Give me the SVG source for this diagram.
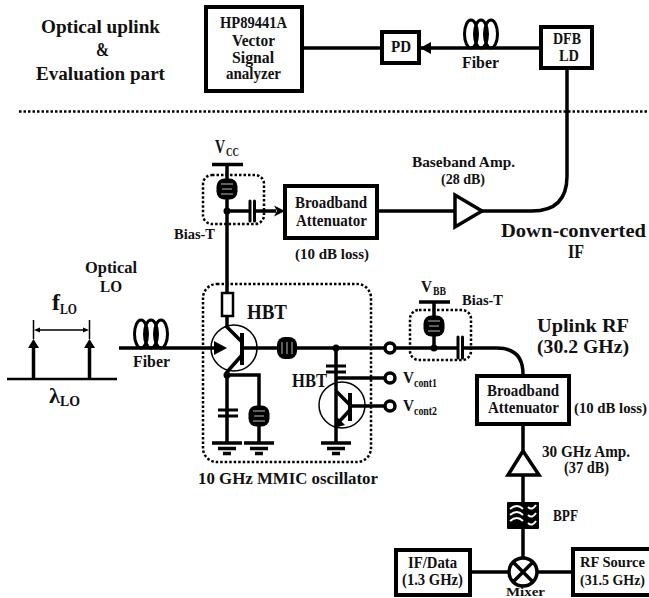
<svg xmlns="http://www.w3.org/2000/svg" width="649" height="598" viewBox="0 0 649 598">
<style>
text{font-family:"Liberation Serif",serif;font-weight:bold;fill:#111}
.s14{font-size:15px}.s15{font-size:16px}.s17{font-size:18px}.s19{font-size:21px}.s18{font-size:19px}.s11{font-size:12px}.s21{font-size:23px}
.w{stroke:#000;stroke-width:3.500;fill:none}
.t{stroke:#000;stroke-width:1.500;fill:none}
.box{fill:#fff;stroke:#000;stroke-width:4}
.dot{fill:none;stroke:#000;stroke-width:2.500;stroke-dasharray:2.500 2}
.coil{fill:none;stroke:#000;stroke-width:3}
</style>
<defs>
<g id="indV"><rect x="-10.500" y="-10.500" width="21" height="21" rx="8" fill="#000"/><path d="M-6-5H6M-5 0H5M-6 5H6" stroke="#bbb" stroke-width="1"/></g>
<g id="gnd"><path d="M-15 0H15M-9 5.500H9M-4 10.500H4" stroke="#000" stroke-width="3.500" fill="none"/></g>
<g id="fib"><ellipse cx="-10" cy="-14" rx="6.500" ry="14" class="coil"/><ellipse cx="0" cy="-14" rx="6.500" ry="14" class="coil"/><ellipse cx="10" cy="-14" rx="6.500" ry="14" class="coil"/></g>
</defs>
<g id="connectors">
<path class="w" d="M302 48H382M419 48H541"/>
<path d="M420 48L431 42V54Z" fill="#000"/>
<path class="w" d="M567 68V176Q567 211 532 211H482M377 211H455"/>
<path class="w" d="M227 165V293M227 211H250M254 211H276"/>
<path d="M285 211L274 205.500L277 211L274 216.500Z" fill="#000"/>
<path class="w" d="M227 316V327L242 342M242 355L227 372V443M227 375H259V443"/>
<path class="w" d="M119 348H216M242 348H385M395 348H458M462 348H497Q523 348 523 374V376"/>
<path d="M227 348L214 341V355Z" fill="#000"/>
<path class="w" d="M336 348V443M336 378H385M350 406H385M336 391L350 405M350 410L336 425"/>
<path d="M334 428L337 417L345 425Z" fill="#000"/>
<path class="w" d="M434 302V348M523 424V502M523 529V558M470 572H509M537 572H573"/>
<path class="w" d="M33.500 379V345M89.500 379V345"/>
<path d="M33.500 339L28 348H39ZM89.500 339L84 348H95Z" fill="#000"/>
<path class="t" d="M33.500 320V339M89.500 320V339M36 330H87"/>
<path d="M34 330L40 327.500V332.500ZM89 330L83 327.500V332.500Z" fill="#000"/>
<path d="M7 379H117" stroke="#000" stroke-width="2.500"/>
<path class="dot" d="M19 111.500H649" stroke-width="3"/>
</g>
<g id="hp"><rect class="box" x="206" y="7" width="96" height="84"/>
<text class="s15" x="220" y="28" textLength="67" lengthAdjust="spacingAndGlyphs">HP89441A</text>
<text class="s15" x="232" y="46" textLength="43" lengthAdjust="spacingAndGlyphs">Vector</text>
<text class="s15" x="232" y="63" textLength="42" lengthAdjust="spacingAndGlyphs">Signal</text>
<text class="s15" x="226" y="79" textLength="55" lengthAdjust="spacingAndGlyphs">analyzer</text></g>
<g id="pd"><rect class="box" x="382" y="32" width="37" height="31"/>
<text class="s15" x="391" y="52" textLength="20" lengthAdjust="spacingAndGlyphs">PD</text></g>
<g id="dfb"><rect class="box" x="541" y="27" width="51" height="41"/>
<text class="s15" x="553" y="44" textLength="28" lengthAdjust="spacingAndGlyphs">DFB</text>
<text class="s15" x="559" y="61" textLength="20" lengthAdjust="spacingAndGlyphs">LD</text></g>
<g id="fiber1"><use href="#fib" x="481" y="48"/><text class="s15" x="462" y="68" textLength="37" lengthAdjust="spacingAndGlyphs">Fiber</text></g>
<g id="title">
<text class="s17" x="41" y="33" textLength="119" lengthAdjust="spacingAndGlyphs">Optical uplink</text>
<text class="s17" x="96" y="56" textLength="13" lengthAdjust="spacingAndGlyphs">&amp;</text>
<text class="s17" x="36" y="80" textLength="129" lengthAdjust="spacingAndGlyphs">Evaluation part</text></g>
<g id="atten1"><rect class="box" x="285" y="186" width="92" height="52"/>
<text class="s15" x="295" y="208" textLength="72" lengthAdjust="spacingAndGlyphs">Broadband</text>
<text class="s15" x="296" y="226" textLength="71" lengthAdjust="spacingAndGlyphs">Attenuator</text>
<text class="s14" x="295" y="259" textLength="74" lengthAdjust="spacingAndGlyphs">(10 dB loss)</text></g>
<g id="amp1"><path d="M455 195V227L482 211Z" fill="#fff" stroke="#000" stroke-width="3.500" stroke-linejoin="miter"/>
<text class="s14" x="412" y="167" textLength="103" lengthAdjust="spacingAndGlyphs">Baseband Amp.</text>
<text class="s14" x="441" y="184" textLength="44" lengthAdjust="spacingAndGlyphs">(28 dB)</text></g>
<g id="if"><text class="s18" x="501" y="237" textLength="145" lengthAdjust="spacingAndGlyphs">Down-converted</text>
<text class="s18" x="568" y="258" textLength="16" lengthAdjust="spacingAndGlyphs">IF</text></g>
<g id="biast1"><rect class="dot" x="203" y="175" width="61" height="49" rx="9"/>
<path class="w" d="M212 164.500H243"/><use href="#indV" x="227" y="189"/><circle cx="227" cy="211" r="3.500" fill="#000"/>
<path d="M250 201V221M254.500 201V221" stroke="#000" stroke-width="3" stroke-linecap="round"/>
<text class="s17" x="215" y="153" textLength="10" lengthAdjust="spacingAndGlyphs">V</text><text class="s11" x="226" y="156" textLength="13" lengthAdjust="spacingAndGlyphs">CC</text>
<text class="s14" x="174" y="239" textLength="41" lengthAdjust="spacingAndGlyphs">Bias-T</text></g>
<g id="lo">
<text class="s15" x="85" y="273" textLength="52" lengthAdjust="spacingAndGlyphs">Optical</text>
<text class="s15" x="100" y="292" textLength="22" lengthAdjust="spacingAndGlyphs">LO</text>
<text class="s21" x="52" y="310" textLength="8" lengthAdjust="spacingAndGlyphs">f</text><text class="s14" x="60" y="314" textLength="17" lengthAdjust="spacingAndGlyphs">LO</text>
<text class="s19" x="49" y="403" textLength="11" lengthAdjust="spacingAndGlyphs">λ</text><text class="s14" x="60" y="406" textLength="20" lengthAdjust="spacingAndGlyphs">LO</text></g>
<g id="fiber2"><use href="#fib" x="151" y="348"/><text class="s15" x="133" y="367" textLength="37" lengthAdjust="spacingAndGlyphs">Fiber</text></g>
<g id="mmic"><rect class="dot" x="203" y="284" width="168" height="178" rx="14"/>
<rect x="222" y="293" width="11" height="23" fill="#fff" stroke="#000" stroke-width="2.500"/>
<circle cx="234" cy="348" r="23" fill="none" stroke="#000" stroke-width="1.500"/>
<path d="M242 333V365" stroke="#000" stroke-width="4"/>
<circle cx="227" cy="375" r="3.500" fill="#000"/>
<rect x="277" y="337" width="20" height="22" rx="8" fill="#000"/><path d="M282 342V354M287 342V354M292 342V354" stroke="#bbb" stroke-width="1"/>
<circle cx="336" cy="348" r="3.500" fill="#000"/>
<path d="M218 410H238M218 416H238M326 366H346M326 372H346" stroke="#000" stroke-width="3"/>
<use href="#indV" x="259" y="416"/>
<use href="#gnd" x="227" y="443"/><use href="#gnd" x="259" y="443"/><use href="#gnd" x="336" y="443"/>
<circle cx="342" cy="405" r="23" fill="none" stroke="#000" stroke-width="1.500"/>
<path d="M350 393V421" stroke="#000" stroke-width="4"/>
<circle cx="390" cy="348" r="5" fill="#fff" stroke="#000" stroke-width="3.500"/>
<circle cx="390" cy="378" r="5" fill="#fff" stroke="#000" stroke-width="3.500"/>
<circle cx="390" cy="406" r="5" fill="#fff" stroke="#000" stroke-width="3.500"/>
<text class="s19" x="247" y="319" textLength="40" lengthAdjust="spacingAndGlyphs">HBT</text>
<text class="s17" x="292" y="387" textLength="35" lengthAdjust="spacingAndGlyphs">HBT</text>
<text class="s15" x="403" y="383" textLength="11" lengthAdjust="spacingAndGlyphs">V</text><text class="s11" x="414" y="387" textLength="23" lengthAdjust="spacingAndGlyphs">cont1</text>
<text class="s15" x="403" y="411" textLength="11" lengthAdjust="spacingAndGlyphs">V</text><text class="s11" x="414" y="415" textLength="23" lengthAdjust="spacingAndGlyphs">cont2</text>
<text class="s15" x="198" y="484" textLength="180" lengthAdjust="spacingAndGlyphs">10 GHz MMIC oscillator</text></g>
<g id="biast2"><rect class="dot" x="410" y="310" width="61" height="50" rx="9"/>
<path class="w" d="M419 302H450"/><use href="#indV" x="434" y="326"/><circle cx="434" cy="348" r="3.500" fill="#000"/>
<path d="M458 337V358M462.500 337V358" stroke="#000" stroke-width="3" stroke-linecap="round"/>
<text class="s15" x="421" y="292" textLength="11" lengthAdjust="spacingAndGlyphs">V</text><text class="s11" x="433" y="295" textLength="13" lengthAdjust="spacingAndGlyphs">BB</text>
<text class="s14" x="462" y="305" textLength="41" lengthAdjust="spacingAndGlyphs">Bias-T</text></g>
<g id="rflabel"><text class="s18" x="537" y="332" textLength="92" lengthAdjust="spacingAndGlyphs">Uplink RF</text>
<text class="s18" x="537" y="353" textLength="92" lengthAdjust="spacingAndGlyphs">(30.2 GHz)</text></g>
<g id="atten2"><rect class="box" x="477" y="376" width="92" height="48"/>
<text class="s15" x="487" y="396" textLength="72" lengthAdjust="spacingAndGlyphs">Broadband</text>
<text class="s15" x="488" y="413" textLength="71" lengthAdjust="spacingAndGlyphs">Attenuator</text>
<text class="s14" x="574" y="413" textLength="73" lengthAdjust="spacingAndGlyphs">(10 dB loss)</text></g>
<g id="amp2"><path d="M523 451L508 475H539Z" fill="#fff" stroke="#000" stroke-width="3.500"/>
<text class="s15" x="542" y="457" textLength="88" lengthAdjust="spacingAndGlyphs">30 GHz Amp.</text>
<text class="s15" x="564" y="473" textLength="45" lengthAdjust="spacingAndGlyphs">(37 dB)</text></g>
<g id="bpf"><rect x="507" y="502" width="32" height="27" rx="1" fill="#000"/>
<path d="M510 509Q517 503 523 509M510 515Q517 509 523 515M510 521Q517 515 523 521M528 507Q532 511 536 505M528 515Q532 519 536 513M528 523Q532 527 536 521" stroke="#fff" stroke-width="2" fill="none"/>
<text class="s15" x="553" y="521" textLength="25" lengthAdjust="spacingAndGlyphs">BPF</text></g>
<g id="mixer"><circle cx="523" cy="572" r="14" fill="#fff" stroke="#000" stroke-width="3.500"/>
<path d="M513 562L533 582M533 562L513 582" stroke="#000" stroke-width="3.500"/>
<text class="s11" x="506" y="596" textLength="39" lengthAdjust="spacingAndGlyphs">Mixer</text></g>
<g id="ifdata"><rect class="box" x="396" y="550" width="74" height="45"/>
<text class="s15" x="408" y="568" textLength="49" lengthAdjust="spacingAndGlyphs">IF/Data</text>
<text class="s15" x="402" y="585" textLength="61" lengthAdjust="spacingAndGlyphs">(1.3 GHz)</text></g>
<g id="rfsource"><rect class="box" x="573" y="549" width="80" height="46"/>
<text x="580" y="567" font-size="14" textLength="65" lengthAdjust="spacingAndGlyphs">RF Source</text>
<text x="580" y="585" font-size="14" textLength="65" lengthAdjust="spacingAndGlyphs">(31.5 GHz)</text></g>
</svg>
